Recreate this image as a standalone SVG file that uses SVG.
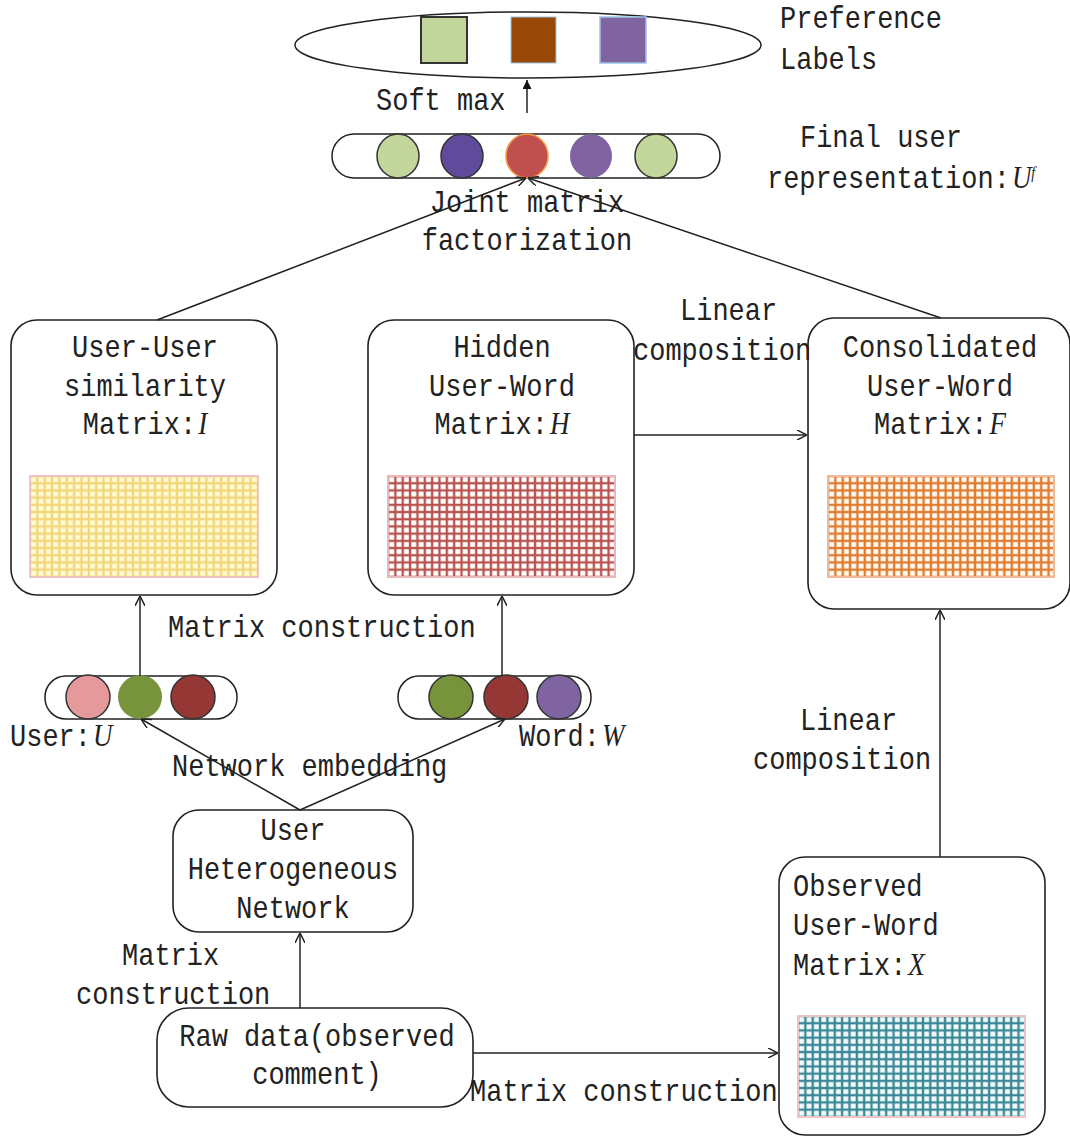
<svg xmlns="http://www.w3.org/2000/svg" width="1070" height="1137" viewBox="0 0 1070 1137">
<style>
.t{font-family:"Liberation Mono","DejaVu Sans Mono",monospace;font-size:27px;fill:#222}
.m{text-anchor:middle}
.v{font-family:"Liberation Serif","Times New Roman",serif;font-style:italic}
.box{fill:#fff;stroke:#222;stroke-width:1.6}
.pill{fill:#fff;stroke:#222;stroke-width:1.5}
.ln{stroke:#222;stroke-width:1.5;fill:none}
</style>
<defs>
<marker id="ah" viewBox="0 0 10 10" refX="10" refY="5" markerWidth="10" markerHeight="10" markerUnits="userSpaceOnUse" orient="auto">
<path d="M0,0 L10,5 L0,10" fill="none" stroke="#222" stroke-width="1.5"/>
</marker>
<marker id="ahf" viewBox="0 0 10 10" refX="10" refY="5" markerWidth="11" markerHeight="9" markerUnits="userSpaceOnUse" orient="auto">
<path d="M0,0 L10,5 L0,10 Z" fill="#111"/>
</marker>
<pattern id="gy" patternUnits="userSpaceOnUse" x="30" y="476" width="7.35" height="7.2">
<rect width="7.35" height="7.2" fill="#f3d67a"/><rect x="1.2" y="1.2" width="5" height="4.9" fill="#fffbd2"/>
</pattern>
<pattern id="gr" patternUnits="userSpaceOnUse" x="388" y="476" width="7.35" height="7.2">
<rect width="7.35" height="7.2" fill="#b9524f"/><rect x="1.2" y="1.2" width="5" height="4.9" fill="#fff"/>
</pattern>
<pattern id="go" patternUnits="userSpaceOnUse" x="828" y="476" width="7.35" height="7.2">
<rect width="7.35" height="7.2" fill="#e07a2c"/><rect x="1.2" y="1.2" width="5" height="4.9" fill="#fffaf2"/>
</pattern>
<pattern id="gt" patternUnits="userSpaceOnUse" x="798" y="1016" width="7.35" height="7.2">
<rect width="7.35" height="7.2" fill="#3a8796"/><rect x="1.2" y="1.2" width="5" height="4.9" fill="#f2fcfd"/>
</pattern>
</defs>

<g id="preference-labels">
<ellipse cx="528" cy="45" rx="233" ry="33" fill="#fff" stroke="#222" stroke-width="1.5"/>
<rect x="421" y="17" width="46" height="46" fill="#c3d69b" stroke="#333" stroke-width="2"/>
<rect x="511" y="17" width="45" height="46" fill="#974806" stroke="#9dc3e6" stroke-width="1"/>
<rect x="600" y="17" width="46" height="46" fill="#8064a2" stroke="#9dc3e6" stroke-width="1.5"/>
<g transform="scale(1 1.15)">
<text class="t" x="780" y="24.35">Preference</text>
<text class="t" x="780" y="60">Labels</text>
</g>
</g>

<g id="final-user-representation">
<rect class="pill" x="332" y="134" width="388" height="44" rx="22"/>
<ellipse cx="398" cy="156" rx="21" ry="22" fill="#c3d69b" stroke="#333" stroke-width="1.5"/>
<ellipse cx="462" cy="156" rx="21" ry="22" fill="#604a9b" stroke="#333" stroke-width="1.5"/>
<ellipse cx="527" cy="156" rx="21" ry="22" fill="#c0504d" stroke="#f79646" stroke-width="1.5"/>
<ellipse cx="591" cy="156" rx="21" ry="22" fill="#8064a2"/>
<ellipse cx="656" cy="156" rx="21" ry="22" fill="#c3d69b" stroke="#333" stroke-width="1.5"/>
<g transform="scale(1 1.15)">
<text class="t" x="800" y="127.83">Final user</text>
<text class="t" x="767" y="163.48">representation:<tspan class="v" dx="2">U</tspan><tspan class="v" font-size="14" dy="-9">f</tspan></text>
</g>
</g>

<g id="user-user-matrix">
<rect class="box" x="11" y="320" width="266" height="275" rx="26"/>
<g transform="scale(1 1.15)">
<text class="t m" x="145" y="310.43">User-User</text>
<text class="t m" x="145" y="344.35">similarity</text>
<text class="t m" x="145" y="377.39">Matrix:<tspan class="v" dx="2">I</tspan></text>
</g>
<rect x="30" y="476" width="228" height="101" fill="url(#gy)" stroke="#ecc4c4" stroke-width="2"/>
</g>

<g id="hidden-matrix">
<rect class="box" x="368" y="320" width="266" height="275" rx="26"/>
<g transform="scale(1 1.15)">
<text class="t m" x="502" y="310.43">Hidden</text>
<text class="t m" x="502" y="344.35">User-Word</text>
<text class="t m" x="502" y="377.39">Matrix:<tspan class="v" dx="2">H</tspan></text>
</g>
<rect x="388" y="476" width="227" height="101" fill="url(#gr)" stroke="#e8b8b8" stroke-width="2"/>
</g>

<g id="consolidated-matrix">
<rect class="box" x="808" y="318" width="262" height="291" rx="26"/>
<g transform="scale(1 1.15)">
<text class="t m" x="940" y="310.43">Consolidated</text>
<text class="t m" x="940" y="344.35">User-Word</text>
<text class="t m" x="940" y="377.39">Matrix:<tspan class="v" dx="2">F</tspan></text>
</g>
<rect x="828" y="476" width="226" height="101" fill="url(#go)" stroke="#f0b89a" stroke-width="2"/>
</g>

<g id="user-embedding">
<rect class="pill" x="45" y="676" width="192" height="43" rx="21"/>
<ellipse cx="88" cy="697" rx="22" ry="22" fill="#e6999a" stroke="#333" stroke-width="1.5"/>
<ellipse cx="140" cy="697" rx="22" ry="22" fill="#77933c"/>
<ellipse cx="193" cy="697" rx="22" ry="22" fill="#953735" stroke="#333" stroke-width="1.5"/>
<g transform="scale(1 1.15)">
<text class="t" x="10" y="648.7">User:<tspan class="v" dx="2">U</tspan></text>
</g>
</g>

<g id="word-embedding">
<rect class="pill" x="398" y="676" width="193" height="43" rx="21"/>
<ellipse cx="451" cy="697" rx="22" ry="22" fill="#77933c" stroke="#333" stroke-width="1.5"/>
<ellipse cx="506" cy="697" rx="22" ry="22" fill="#953735" stroke="#333" stroke-width="1.5"/>
<ellipse cx="559" cy="697" rx="22" ry="22" fill="#8064a2" stroke="#333" stroke-width="1.5"/>
<g transform="scale(1 1.15)">
<text class="t" x="519" y="648.7">Word:<tspan class="v" dx="2">W</tspan></text>
</g>
</g>

<g id="user-heterogeneous-network">
<rect class="box" x="173" y="810" width="240" height="122" rx="26"/>
<g transform="scale(1 1.15)">
<text class="t m" x="293" y="730.43">User</text>
<text class="t m" x="293" y="764.35">Heterogeneous</text>
<text class="t m" x="293" y="798.26">Network</text>
</g>
</g>

<g id="raw-data">
<rect class="box" x="157" y="1008" width="316" height="99" rx="32"/>
<g transform="scale(1 1.15)">
<text class="t m" x="317" y="909.57">Raw data(observed</text>
<text class="t m" x="317" y="942.61">comment)</text>
</g>
</g>

<g id="observed-matrix">
<rect class="box" x="779" y="857" width="266" height="278" rx="26"/>
<g transform="scale(1 1.15)">
<text class="t" x="793" y="779.13">Observed</text>
<text class="t" x="793" y="813.04">User-Word</text>
<text class="t" x="793" y="847.83">Matrix:<tspan class="v" dx="2">X</tspan></text>
</g>
<rect x="798" y="1016" width="227" height="101" fill="url(#gt)" stroke="#ecc4c4" stroke-width="2"/>
</g>

<g id="connectors">
<line class="ln" x1="527" y1="113" x2="527" y2="80" marker-end="url(#ahf)"/>
<line class="ln" x1="157" y1="320" x2="526" y2="178" marker-end="url(#ah)"/>
<line class="ln" x1="941" y1="318" x2="528" y2="178" marker-end="url(#ah)"/>
<line class="ln" x1="634" y1="435" x2="807" y2="435" marker-end="url(#ah)"/>
<line class="ln" x1="140" y1="676" x2="140" y2="596" marker-end="url(#ah)"/>
<line class="ln" x1="502" y1="676" x2="502" y2="596" marker-end="url(#ah)"/>
<line class="ln" x1="300" y1="810" x2="141" y2="719" marker-end="url(#ah)"/>
<line class="ln" x1="300" y1="810" x2="505" y2="719" marker-end="url(#ah)"/>
<line class="ln" x1="300" y1="1008" x2="300" y2="933" marker-end="url(#ah)"/>
<line class="ln" x1="473" y1="1053" x2="778" y2="1053" marker-end="url(#ah)"/>
<line class="ln" x1="940" y1="857" x2="940" y2="610" marker-end="url(#ah)"/>
<g transform="scale(1 1.15)">
<text class="t" x="376" y="95.65">Soft max</text>
<text class="t m" x="527" y="184.35">Joint matrix</text>
<text class="t m" x="527" y="217.39">factorization</text>
<text class="t" x="680" y="278.26">Linear</text>
<text class="t" x="633" y="313.04">composition</text>
<text class="t" x="168" y="553.91">Matrix construction</text>
<text class="t" x="172" y="674.78">Network embedding</text>
<text class="t" x="800" y="634.78">Linear</text>
<text class="t" x="753" y="668.7">composition</text>
<text class="t" x="122" y="839.13">Matrix</text>
<text class="t" x="76" y="873.04">construction</text>
<text class="t" x="470" y="957.39">Matrix construction</text>
</g>
</g>
</svg>
